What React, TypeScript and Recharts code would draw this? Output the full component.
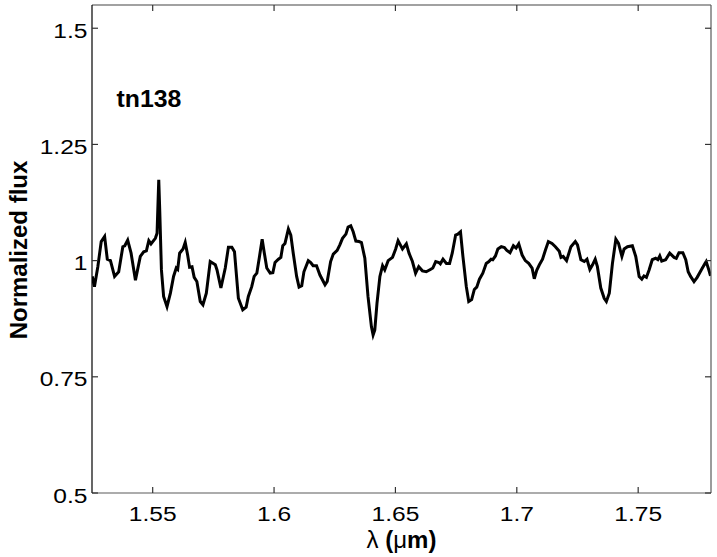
import React from 'react';
import { LineChart, Line, XAxis, YAxis, ReferenceDot } from 'recharts';

// Wavelength (micron) and normalized flux
const wavelength = [
  1.5251, 1.5260, 1.5274, 1.5288, 1.5302, 1.5313, 1.5326, 1.5343, 1.5360, 1.5377,
  1.5385, 1.5397, 1.5411, 1.5429, 1.5449, 1.5463, 1.5474, 1.5484, 1.5493, 1.5511,
  1.5518, 1.5525, 1.5529, 1.5536, 1.5545, 1.5559, 1.5573, 1.5586, 1.5597, 1.5603,
  1.5611, 1.5625, 1.5634, 1.5644, 1.5652, 1.5662, 1.5671, 1.5682, 1.5696, 1.5707,
  1.5721, 1.5737, 1.5758, 1.5765, 1.5781, 1.5799, 1.5812, 1.5826, 1.5837, 1.5853,
  1.5871, 1.5885, 1.5894, 1.5908, 1.5918, 1.5929, 1.5940, 1.5951, 1.5960, 1.5970,
  1.5984, 1.5995, 1.6004, 1.6018, 1.6028, 1.6036, 1.6045, 1.6059, 1.6069, 1.6079,
  1.6093, 1.6103, 1.6114, 1.6123, 1.6141, 1.6151, 1.6161, 1.6175, 1.6189, 1.6210,
  1.6219, 1.6233, 1.6244, 1.6260, 1.6271, 1.6282, 1.6296, 1.6305, 1.6316, 1.6326,
  1.6337, 1.6350, 1.6360, 1.6374, 1.6387, 1.6401, 1.6408, 1.6415, 1.6424, 1.6436,
  1.6447, 1.6456, 1.6470, 1.6488, 1.6501, 1.6511, 1.6518, 1.6529, 1.6545, 1.6556,
  1.6570, 1.6583, 1.6596, 1.6611, 1.6627, 1.6644, 1.6654, 1.6666, 1.6679, 1.6685,
  1.6696, 1.6710, 1.6723, 1.6734, 1.6748, 1.6757, 1.6768, 1.6778, 1.6792, 1.6802,
  1.6814, 1.6825, 1.6835, 1.6846, 1.6860, 1.6874, 1.6885, 1.6894, 1.6901, 1.6912,
  1.6922, 1.6936, 1.6949, 1.6959, 1.6972, 1.6986, 1.6997, 1.7008, 1.7022, 1.7035,
  1.7049, 1.7063, 1.7072, 1.7082, 1.7093, 1.7106, 1.7118, 1.7130, 1.7145, 1.7159,
  1.7175, 1.7182, 1.7191, 1.7205, 1.7223, 1.7241, 1.7250, 1.7264, 1.7278, 1.7289,
  1.7301, 1.7312, 1.7323, 1.7332, 1.7346, 1.7360, 1.7369, 1.7381, 1.7394, 1.7408,
  1.7419, 1.7433, 1.7442, 1.7456, 1.7476, 1.7490, 1.7504, 1.7515, 1.7524, 1.7534,
  1.7545, 1.7558, 1.7572, 1.7581, 1.7589, 1.7597, 1.7613, 1.7630, 1.7648, 1.7657,
  1.7668, 1.7684, 1.7696, 1.7706, 1.7716, 1.7730, 1.7743, 1.7761, 1.7775, 1.7780,
  1.7791, 1.7798,
];

const flux = [
  0.966, 0.944, 0.987, 1.041, 1.052, 1.003, 1.000, 0.966, 0.976, 1.030,
  1.032, 1.044, 1.016, 0.958, 1.009, 1.019, 1.021, 1.043, 1.036, 1.048,
  1.059, 1.174, 1.109, 0.980, 0.923, 0.901, 0.930, 0.966, 0.984, 0.981,
  1.016, 1.025, 1.039, 1.012, 0.986, 0.987, 0.964, 0.955, 0.912, 0.905,
  0.930, 0.998, 0.991, 0.980, 0.941, 0.984, 1.029, 1.029, 1.019, 0.919,
  0.894, 0.900, 0.923, 0.944, 0.966, 0.973, 1.009, 1.046, 1.016, 0.984,
  0.973, 0.974, 0.996, 1.003, 1.007, 1.032, 1.037, 1.068, 1.055, 1.016,
  0.966, 0.943, 0.946, 0.976, 1.000, 0.996, 0.989, 0.989, 0.969, 0.948,
  0.955, 0.998, 1.014, 1.022, 1.034, 1.048, 1.057, 1.072, 1.075, 1.062,
  1.042, 1.041, 1.039, 1.005, 0.923, 0.858, 0.840, 0.851, 0.908, 0.966,
  0.989, 0.980, 1.000, 1.007, 1.025, 1.043, 1.036, 1.025, 1.036, 1.016,
  0.998, 0.973, 0.987, 0.978, 0.976, 0.981, 0.984, 0.998, 0.996, 0.993,
  1.003, 0.994, 0.994, 1.016, 1.055, 1.057, 1.062, 1.009, 0.944, 0.912,
  0.916, 0.938, 0.943, 0.960, 0.973, 0.994, 0.998, 1.003, 1.002, 1.010,
  1.025, 1.030, 1.028, 1.022, 1.017, 1.032, 1.027, 1.036, 1.012, 1.000,
  0.994, 0.984, 0.961, 0.979, 0.991, 1.003, 1.023, 1.041, 1.037, 1.030,
  1.020, 1.007, 1.009, 1.000, 1.030, 1.041, 1.034, 1.002, 0.998, 1.003,
  0.981, 0.991, 1.003, 0.987, 0.941, 0.919, 0.912, 0.930, 0.994, 1.046,
  1.037, 1.009, 1.025, 1.030, 1.032, 1.009, 0.966, 0.960, 0.967, 0.964,
  0.980, 1.002, 1.005, 1.002, 1.010, 0.999, 1.002, 1.016, 1.007, 1.005,
  1.017, 1.017, 1.002, 0.976, 0.966, 0.955, 0.964, 0.981, 0.994, 0.998,
  0.980, 0.967,
];

const xTicks = [1.55, 1.6, 1.65, 1.7, 1.75];
const xTickLabels = ['1.55', '1.6', '1.65', '1.7', '1.75'];
const yTicks = [0.5, 0.75, 1, 1.25, 1.5];
const yTickLabels = ['0.5', '0.75', '1', '1.25', '1.5'];
const xDomain = [1.525, 1.78];
const yDomain = [0.5, 1.55];
const titleText = 'tn138';
const titlePos = { x: 1.5351, y: 1.33 };
const yLabelText = 'Normalized flux';

const data = wavelength.map((w, i) => ({ w, f: flux[i] }));

const FONT = '"Liberation Sans", Arial, Helvetica, sans-serif';
const TICK_LEN = 6;
const GRAY = '#5a5a5a';
const TICK_COLOR = '#333';
const TICK_W = 1.2;
const TICK_FS = 21;
const TICK_SX = 1.17;

const labelFor = (ticks: number[], labels: string[], v: number) => {
  const i = ticks.findIndex((t) => Math.abs(t - v) < 1e-9);
  return i >= 0 ? labels[i] : String(v);
};

const BottomTick = (props: any) => {
  const { x, y, payload } = props;
  return (
    <g>
      <path d={`M${x},${y}V${y - TICK_LEN}`} stroke={TICK_COLOR} strokeWidth={TICK_W} fill="none" />
      <text
        transform={`translate(${x},${y + 27.5}) scale(${TICK_SX},1)`}
        textAnchor="middle"
        fontSize={TICK_FS}
        fontFamily={FONT}
        fill="#000"
      >
        {labelFor(xTicks, xTickLabels, payload.value)}
      </text>
    </g>
  );
};

const TopTick = (props: any) => {
  const { x, y } = props;
  return <path d={`M${x},${y}V${y + TICK_LEN}`} stroke={TICK_COLOR} strokeWidth={TICK_W} fill="none" />;
};

const LeftTick = (props: any) => {
  const { x, y, payload } = props;
  return (
    <g>
      <path d={`M${x},${y}H${x + TICK_LEN}`} stroke={TICK_COLOR} strokeWidth={TICK_W} fill="none" />
      <text
        transform={`translate(${x - 4.5},${y + 9.5}) scale(${TICK_SX},1)`}
        textAnchor="end"
        fontSize={TICK_FS}
        fontFamily={FONT}
        fill="#000"
      >
        {labelFor(yTicks, yTickLabels, payload.value)}
      </text>
    </g>
  );
};

const RightTick = (props: any) => {
  const { x, y } = props;
  return <path d={`M${x},${y}H${x - TICK_LEN}`} stroke={TICK_COLOR} strokeWidth={TICK_W} fill="none" />;
};

const YLabel = (props: any) => {
  const vb = props.viewBox || { x: 0, y: 5, width: 92, height: 488 };
  const cx = vb.x + 27;
  const cy = vb.y + vb.height / 2 + 1;
  return (
    <text
      transform={`translate(${cx},${cy}) rotate(-90)`}
      textAnchor="middle"
      fontSize={24}
      fontWeight="bold"
      fontFamily={FONT}
      fill="#000"
    >
      {yLabelText}
    </text>
  );
};

const XLabel = (props: any) => {
  const vb = props.viewBox || { x: 92, y: 493, width: 619, height: 64 };
  const cx = vb.x + vb.width / 2;
  const cy = vb.y + 55;
  return (
    <text x={cx} y={cy} textAnchor="middle" fontSize={24} fontFamily={FONT} fill="#000">
      <tspan>λ</tspan>
      <tspan fontWeight="bold"> (</tspan>
      <tspan>μ</tspan>
      <tspan fontWeight="bold">m)</tspan>
    </text>
  );
};

const TitleShape = (props: any) => {
  const { cx, cy } = props;
  return (
    <text
      transform={`translate(${cx},${cy}) scale(1.08,1)`}
      textAnchor="start"
      fontSize={23}
      fontWeight="bold"
      fontFamily={FONT}
      fill="#000"
    >
      {titleText}
    </text>
  );
};

export default function App() {
  return (
    <div style={{ position: 'absolute', left: 0, top: 0, width: 717, height: 557, background: '#fff' }}>
      <LineChart
        width={717}
        height={557}
        data={data}
        margin={{ top: 4, right: 5, bottom: 0, left: 0 }}
      >
        <XAxis
          dataKey="w"
          type="number"
          domain={xDomain}
          ticks={xTicks}
          allowDataOverflow
          height={64}
          tickSize={0}
          tickMargin={0}
          tick={<BottomTick />}
          axisLine={{ stroke: GRAY, strokeWidth: 1.2 }}
          tickLine={false}
          label={{ content: <XLabel /> }}
        />
        <XAxis
          xAxisId="top"
          orientation="top"
          dataKey="w"
          type="number"
          domain={xDomain}
          ticks={xTicks}
          allowDataOverflow
          height={1}
          tickSize={0}
          tickMargin={0}
          tick={<TopTick />}
          axisLine={{ stroke: '#444', strokeWidth: 1.2 }}
          tickLine={false}
        />
        <YAxis
          type="number"
          domain={yDomain}
          ticks={yTicks}
          allowDataOverflow
          width={92}
          tickSize={0}
          tickMargin={0}
          tick={<LeftTick />}
          axisLine={{ stroke: '#000', strokeWidth: 1.2 }}
          tickLine={false}
          label={{ content: <YLabel /> }}
        />
        <YAxis
          yAxisId="right"
          orientation="right"
          type="number"
          domain={yDomain}
          ticks={yTicks}
          allowDataOverflow
          width={1}
          tickSize={0}
          tickMargin={0}
          tick={<RightTick />}
          axisLine={{ stroke: GRAY, strokeWidth: 1.2 }}
          tickLine={false}
        />
        <ReferenceDot
          x={titlePos.x}
          y={titlePos.y}
          r={0}
          shape={<TitleShape />}
          ifOverflow="visible"
        />
        <Line
          type="linear"
          dataKey="f"
          stroke="#000"
          strokeWidth={3}
          dot={false}
          isAnimationActive={false}
        />
        <Line
          xAxisId="top"
          yAxisId="right"
          type="linear"
          dataKey="f"
          stroke="none"
          strokeWidth={0}
          dot={false}
          activeDot={false}
          legendType="none"
          isAnimationActive={false}
        />
      </LineChart>
    </div>
  );
}
